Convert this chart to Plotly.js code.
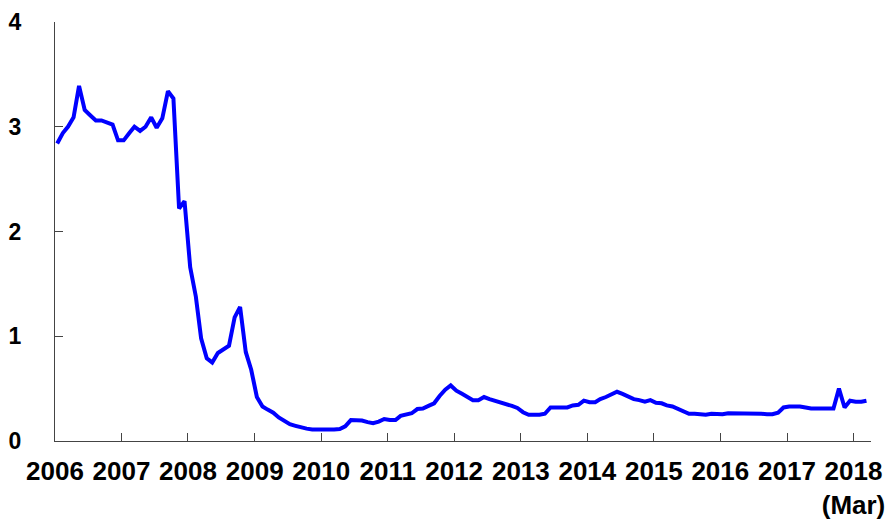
<!DOCTYPE html>
<html>
<head>
<meta charset="utf-8">
<script src="https://cdn.plot.ly/plotly-3.0.1.min.js"></script>
<style>html,body{margin:0;padding:0;background:#fff;}#chart{width:893px;height:524px;}</style>
</head>
<body>
<div id="chart"></div>
<script>
// Monthly series, Jan 2006 – Mar 2018
const startYear = 2006;
const values2006 = [2.84, 2.94, 3.00, 3.09, 3.39, 3.16, 3.11, 3.06, 3.06, 3.04, 3.02, 2.87];
const values2007 = [2.87, 2.94, 3.00, 2.96, 3.00, 3.09, 2.99, 3.08, 3.34, 3.27, 2.22, 2.29];
const values2008 = [1.66, 1.38, 0.98, 0.79, 0.75, 0.84, 0.87, 0.91, 1.18, 1.28, 0.85, 0.68];
const values2009 = [0.42, 0.33, 0.30, 0.27, 0.225, 0.19, 0.16, 0.145, 0.128, 0.118, 0.11, 0.108];
const values2010 = [0.108, 0.108, 0.11, 0.115, 0.14, 0.20, 0.20, 0.195, 0.18, 0.17, 0.185, 0.21];
const values2011 = [0.20, 0.20, 0.24, 0.25, 0.265, 0.305, 0.31, 0.335, 0.36, 0.43, 0.49, 0.53];
const values2012 = [0.48, 0.45, 0.42, 0.39, 0.39, 0.42, 0.40, 0.385, 0.37, 0.355, 0.335, 0.315];
const values2013 = [0.275, 0.25, 0.25, 0.25, 0.26, 0.32, 0.32, 0.32, 0.32, 0.34, 0.345, 0.385];
const values2014 = [0.37, 0.37, 0.40, 0.42, 0.44, 0.47, 0.45, 0.42, 0.40, 0.39, 0.375, 0.39];
const values2015 = [0.365, 0.36, 0.34, 0.33, 0.31, 0.29, 0.26, 0.26, 0.255, 0.25, 0.26, 0.26];
const values2016 = [0.255, 0.265, 0.265, 0.265, 0.265, 0.265, 0.265, 0.26, 0.255, 0.255, 0.27, 0.32];
const values2017 = [0.33, 0.33, 0.33, 0.32, 0.31, 0.31, 0.31, 0.305, 0.31, 0.50, 0.32, 0.385];
const values2018 = [0.375, 0.375, 0.385];

const yearTicks = [2006, 2007, 2008, 2009, 2010, 2011, 2012, 2013, 2014, 2015, 2016, 2017, 2018];
const yearLabels = ['2006', '2007', '2008', '2009', '2010', '2011', '2012', '2013', '2014', '2015', '2016', '2017', '2018<br>(Mar)'];
const yTicks = [0, 1, 2, 3, 4];

const allYears = [values2006, values2007, values2008, values2009, values2010, values2011,
  values2012, values2013, values2014, values2015, values2016, values2017, values2018];

const xs = [], ys = [];
allYears.forEach((arr, yi) => {
  arr.forEach((v, mi) => {
    const mm = String(mi + 1).padStart(2, '0');
    xs.push(`${startYear + yi}-${mm}-13`);
    ys.push(v);
  });
});

const font = {family: 'Liberation Sans, Arial, sans-serif', color: '#000', weight: 700};

const trace = {
  x: xs, y: ys, type: 'scatter', mode: 'lines',
  line: {color: '#0000FF', width: 4},
  hoverinfo: 'skip'
};

const layout = {
  width: 893, height: 524,
  margin: {l: 55, r: 22, t: 22, b: 83},
  paper_bgcolor: '#fff', plot_bgcolor: '#fff',
  showlegend: false,
  xaxis: {
    type: 'date',
    range: ['2006-01-01', '2018-04-07'],
    tickmode: 'array',
    tickvals: yearTicks.map(y => `${y}-01-01`),
    ticktext: yearLabels,
    ticks: 'inside', ticklen: 8, tickwidth: 1, tickcolor: '#444',
    showline: true, linecolor: '#444', linewidth: 1,
    showgrid: false, zeroline: false,
    ticklabelstandoff: 7,
    tickfont: Object.assign({size: 26}, font)
  },
  yaxis: {
    range: [0, 4],
    tickmode: 'array',
    tickvals: yTicks,
    ticktext: yTicks.map(String),
    ticks: 'inside', ticklen: 8, tickwidth: 1, tickcolor: '#444',
    showline: true, linecolor: '#444', linewidth: 1,
    showgrid: false, zeroline: false,
    ticklabelstandoff: 28,
    tickfont: Object.assign({size: 23}, font)
  }
};

Plotly.newPlot('chart', [trace], layout, {displayModeBar: false, staticPlot: true});
</script>
</body>
</html>
